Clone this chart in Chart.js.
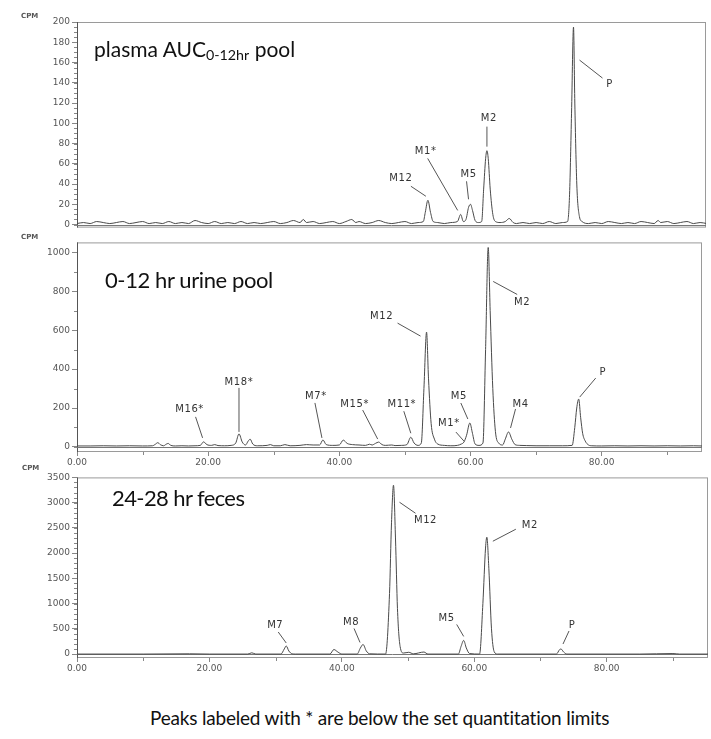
<!DOCTYPE html>
<html><head><meta charset="utf-8">
<script src="https://cdn.jsdelivr.net/npm/chart.js@4.4.1/dist/chart.umd.min.js"></script>
<style>
html,body{margin:0;padding:0;background:#fff;width:711px;height:739px;overflow:hidden;position:relative;}
.pane{position:absolute;left:0;}
canvas{display:block;}
.title{position:absolute;font-family:Lato,'Noto Sans',sans-serif;color:#111;white-space:nowrap;line-height:1;}
.title sub{font-size:0.68em;vertical-align:-0.22em;line-height:0;}
.cpm{position:absolute;font-family:'DejaVu Sans',sans-serif;font-size:7px;color:#555;font-weight:bold;line-height:1;}
.note{position:absolute;font-family:Lato,'Noto Sans',sans-serif;font-size:19px;letter-spacing:-0.2px;color:#111;white-space:nowrap;line-height:1;}
</style>
</head><body>
<div class="pane" style="top:0"><canvas id="c1" width="711" height="235"></canvas></div>
<div class="pane" style="top:235px"><canvas id="c2" width="711" height="235"></canvas></div>
<div class="pane" style="top:470px"><canvas id="c3" width="711" height="210"></canvas></div>
<div class="cpm" style="left:21px;top:13px">CPM</div>
<div class="cpm" style="left:21px;top:234px">CPM</div>
<div class="cpm" style="left:22px;top:465px">CPM</div>
<div class="title" style="left:94px;top:38px;font-size:21px">plasma AUC<sub>0-12hr</sub> pool</div>
<div class="title" style="left:105px;top:269px;font-size:22px;letter-spacing:-0.4px">0-12 hr urine pool</div>
<div class="title" style="left:112px;top:487px;font-size:22px;letter-spacing:-0.6px">24-28 hr feces</div>
<div class="note" style="left:150px;top:708px">Peaks labeled with * are below the set quantitation limits</div>
<script>
// ---------- DATA ----------
const xTickLabels = [0, 20, 40, 60, 80];

// Panel 1: plasma AUC 0-12hr pool
const plasmaTime = [0,1,2,3,4,5,6,7,8,9,10,11,12,13,14,15,16,17,18,19,20,21,22,23,24,25,26,27,28,29,30,31,32,33,34,34.5,35,36,37,38,39,40,41,41.9,42.5,43,44,45,46,47,48,49,50,51,52,52.8,53.1,53.5,53.9,54.3,55,56,57,58,58.5,58.9,59.3,59.7,60.0,60.3,60.7,61.2,61.7,62.0,62.3,62.5,62.7,63.0,63.4,63.8,64.5,65.3,65.9,66.5,67,68,69,70,71,72,73,74,74.8,75.1,75.4,75.7,75.9,76.2,76.6,77,78,79,80,81,82,83,84,85,86,87,88,88.6,89,90,91,92,93,94,95,96];
const plasmaCpm  = [1,2,1,3,2,1,2,3,1,2,3,1,2,1,3,1,2,1,4,2,1,3,1,2,1,3,1,2,1,2,3,1,2,4,2,5,2,3,1,2,3,1,3,5,2,3,1,2,4,2,1,2,3,1,2,3,12,24,12,3,2,1,2,3,10,3,5,17,20,14,4,2,3,35,65,73,65,35,10,3,2,3,6,2,1,2,1,2,1,3,1,2,3,30,110,195,120,40,8,3,1,2,1,3,2,1,2,1,3,2,1,4,2,3,1,2,3,1,2,1];
const plasmaYTicks = [0,20,40,60,80,100,120,140,160,180,200];
const plasmaPeakNames = ['M12','M1*','M5','M2','P'];
const plasmaPeakTime  = [53.5,58.5,60.0,62.5,75.7];
const plasmaPeakCpm   = [24,10,20,73,195];

// Panel 2: 0-12 hr urine pool
const urineTime = [0,2,4,6,8,10,11.5,12,12.3,12.7,13.2,13.6,13.9,14.3,15,16,17,18,18.8,19.3,19.8,20.5,21,21.5,22.5,23.5,24.2,24.7,25.2,25.7,26.1,26.4,26.8,27.5,29,29.5,30,31,31.7,32.5,34,35,36,37,37.5,38,39,40,40.6,41.2,42,43,44,44.6,45,45.5,46,46.5,47,48,48.5,49.5,50.3,50.9,51.4,52,52.5,52.9,53.3,53.6,54,54.5,55,56,57,58,58.6,59,59.4,59.9,60.3,60.7,61.3,61.9,62.3,62.7,63.0,63.4,63.8,64.3,64.9,65.3,65.8,66.3,66.8,67.5,68.5,70,72,74,75.5,75.9,76.2,76.5,76.8,77.1,77.5,78,78.5,80,82,84,86,88,90,92,94,95.3];
const urineCpm  = [5,5,6,5,6,5,6,15,22,12,6,14,18,8,5,6,5,6,8,26,12,8,12,7,6,8,20,67,25,10,30,40,15,6,8,12,6,6,12,6,8,12,10,10,36,12,8,10,35,18,12,10,8,14,10,18,25,12,8,10,7,8,12,50,20,8,20,300,590,350,120,40,15,8,6,8,15,25,60,123,70,15,8,20,500,1025,700,300,80,20,10,40,77,40,12,8,7,6,6,6,8,100,200,246,150,70,30,10,6,5,6,5,6,5,6,5,6,5];
const urineYTicks = [0,200,400,600,800,1000];
const urinePeakNames = ['M16*','M18*','M7*','M15*','M11*','M12','M1*','M5','M2','M4','P'];
const urinePeakTime  = [19.3,24.7,37.5,46.0,50.9,53.3,59.0,59.9,62.7,65.8,76.5];
const urinePeakCpm   = [26,67,36,25,50,590,25,123,1025,77,246];

// Panel 3: 24-28 hr feces
const fecesTime = [0,10,17,20,25.8,26.4,27,30.8,31.3,31.6,32,32.5,33,38.2,38.8,39.4,40,42.3,42.8,43.2,43.7,44.2,46.6,47.2,47.5,47.8,48.1,48.4,48.8,49.3,50.1,50.8,52.4,53,57.6,58.0,58.4,58.8,59.3,60.8,61.3,61.7,61.9,62.2,62.6,63,63.5,72.4,72.9,73.1,73.5,74,85,90,91,95.3];
const fecesCpm  = [0,0,5,0,0,25,0,0,100,160,60,5,0,0,90,40,0,0,120,190,60,5,0,1200,2600,3345,2300,900,150,20,35,5,40,0,0,150,270,120,10,0,1000,2100,2315,1700,500,50,0,0,90,100,40,0,0,10,0,0];
const fecesYTicks = [0,500,1000,1500,2000,2500,3000,3500];
const fecesPeakNames = ['M7','M8','M12','M5','M2','P'];
const fecesPeakTime  = [31.6,43.2,47.8,58.4,61.9,73.1];
const fecesPeakCpm   = [160,190,3345,270,2315,100];

// ---------- STYLE (label placement offsets in px relative to peak tip) ----------
// [textDx, textDy, lineStartDx, lineStartDy, lineEndDx, lineEndDy]
const plasmaLabelPos = [[-27,-22,-17,-14,-2,-4],[-35,-63,-33,-56,-3,-4],[-2,-30,-4,-23,-2,-5],[2,-32,0,-24,0,-4],[36,57,6,33,29,51]];
const urineLabelPos = [[-14,-32,-8,-25,-1,-4],[0,-51,0,-46,0,-2],[-7,-44,-8,-37,-1,-2],[-24,-38,-16,-32,-1,-3],[-9,-33,-7,-26,0,-4],[-45,-16,-29,-9,-6,4],[-15,-19,-8,-10,0,-1],[-11,-27,-9,-20,-2,-4],[34,55,5,34,29,47],[12,-28,7,-23,2,-4],[24,-27,17,-21,1,-2]];
const fecesLabelPos = [[-11,-21,-8,-14,0,-3],[-12,-22,-9,-16,-3,-2],[32,35,6,17,22,28],[-17,-22,-7,-16,0,-4],[43,-12,6,4,29,-8],[11,-24,8,-18,2,-5]];

const decoPlugin = {
  id: 'deco',
  beforeDatasetsDraw(chart, args, o) {
    const ctx = chart.ctx, a = chart.chartArea, xs = chart.scales.x, ys = chart.scales.y;
    ctx.save();
    ctx.strokeStyle = '#9a9a9a'; ctx.lineWidth = 1;
    ctx.strokeRect(a.left + 0.5, a.top + 0.5, a.right - a.left - 1, a.bottom - a.top - 1);
    ctx.strokeStyle = '#555';
    ctx.beginPath(); ctx.moveTo(a.left + 0.5, a.top); ctx.lineTo(a.left + 0.5, a.bottom); ctx.stroke();
    const y0 = Math.round(ys.getPixelForValue(0)) + 0.5;
    ctx.strokeStyle = '#777';
    ctx.beginPath(); ctx.moveTo(a.left, y0); ctx.lineTo(a.right, y0); ctx.stroke();
    ctx.strokeStyle = '#888';
    for (let v = 0; v <= ys.max; v += o.minorY) {
      const y = Math.round(ys.getPixelForValue(v)) + 0.5;
      ctx.beginPath(); ctx.moveTo(a.left - 3, y); ctx.lineTo(a.left, y); ctx.stroke();
    }
    if (o.minorX) {
      for (let v = 10; v <= xs.max; v += o.minorX) {
        const x = Math.round(xs.getPixelForValue(v)) + 0.5;
        ctx.beginPath(); ctx.moveTo(x, a.bottom); ctx.lineTo(x, a.bottom + 3); ctx.stroke();
      }
    }
    ctx.restore();
  },
  afterDatasetsDraw(chart, args, o) {
    const ctx = chart.ctx, xs = chart.scales.x, ys = chart.scales.y;
    ctx.save();
    ctx.font = '10px "DejaVu Sans"';
    try { ctx.letterSpacing = '0.6px'; } catch (e) {}
    ctx.fillStyle = '#333'; ctx.strokeStyle = '#555'; ctx.lineWidth = 1;
    ctx.textAlign = 'center'; ctx.textBaseline = 'middle';
    o.names.forEach((n, i) => {
      const px = xs.getPixelForValue(o.times[i]), py = ys.getPixelForValue(o.cpm[i]);
      const p = o.pos[i];
      ctx.beginPath(); ctx.moveTo(px + p[2], py + p[3]); ctx.lineTo(px + p[4], py + p[5]); ctx.stroke();
      ctx.fillText(n, px + p[0], py + p[1]);
    });
    ctx.restore();
  }
};

function makeChart(id, time, cpm, yTicks, yMin, yMax, xMax, showX, pad, minorY, names, times, peaks, pos) {
  const tickFont = { family: 'DejaVu Sans', size: 9 };
  return new Chart(document.getElementById(id), {
    type: 'line',
    data: { datasets: [{ data: time.map((t, i) => ({ x: t, y: cpm[i] })), borderColor: '#4a4a4a', borderWidth: 1, pointRadius: 0, cubicInterpolationMode: 'monotone', fill: false }] },
    options: {
      responsive: false, animation: false, devicePixelRatio: 1,
      layout: { padding: pad },
      plugins: { legend: { display: false }, tooltip: { enabled: false },
        deco: { minorY: minorY, minorX: showX ? 20 : 0, names: names, times: times, cpm: peaks, pos: pos } },
      scales: {
        x: { type: 'linear', min: 0, max: xMax, display: showX,
          afterBuildTicks: s => { s.ticks = xTickLabels.map(v => ({ value: v })); },
          afterFit: s => { s.height = showX ? 18 : 0; },
          ticks: { callback: v => Number(v).toFixed(2), font: tickFont, color: '#555', maxRotation: 0, autoSkip: false, padding: 1 },
          grid: { drawOnChartArea: false, drawTicks: true, tickLength: 4, color: '#888' },
          border: { display: false } },
        y: { min: yMin, max: yMax,
          afterBuildTicks: s => { s.ticks = yTicks.map(v => ({ value: v })); },
          afterFit: s => { s.width = 77; },
          ticks: { callback: v => String(v), font: tickFont, color: '#555', autoSkip: false, padding: 2 },
          grid: { drawOnChartArea: false, drawTicks: true, tickLength: 5, color: '#888' },
          border: { display: false } }
      }
    },
    plugins: [decoPlugin]
  });
}

makeChart('c1', plasmaTime, plasmaCpm, plasmaYTicks, -3, 200, 95.9, false, { top: 22, right: 5, bottom: 5, left: 0 }, 5, plasmaPeakNames, plasmaPeakTime, plasmaPeakCpm, plasmaLabelPos);
makeChart('c2', urineTime, urineCpm, urineYTicks, -26, 1051, 95.3, true, { top: 7, right: 9, bottom: 0, left: 0 }, 100, urinePeakNames, urinePeakTime, urinePeakCpm, urineLabelPos);
makeChart('c3', fecesTime, fecesCpm, fecesYTicks, -78, 3500, 95.3, true, { top: 4, right: 3, bottom: 4, left: 0 }, 100, fecesPeakNames, fecesPeakTime, fecesPeakCpm, fecesLabelPos);
</script>
</body></html>
